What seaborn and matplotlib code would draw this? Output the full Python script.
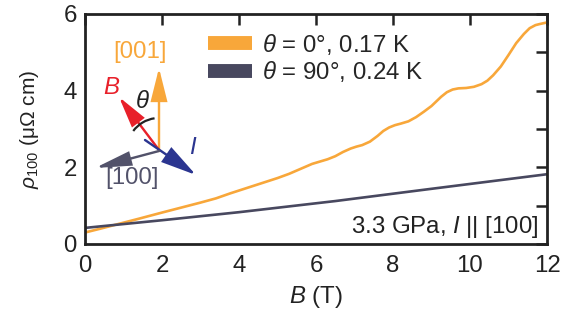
import numpy as np
import pandas as pd
import matplotlib
matplotlib.use("Agg")
import matplotlib.pyplot as plt
from matplotlib.lines import Line2D
from matplotlib.patches import FancyArrowPatch, Arc
import seaborn as sns

# Magnetoresistance rho_100 vs field B
b_par = [0.0, 0.4, 0.86, 1.4, 2.0, 2.5, 3.0, 3.4, 3.77, 4.2, 4.6, 5.0, 5.3, 5.6, 5.9,
         6.1, 6.3, 6.5, 6.7, 6.9, 7.05, 7.2, 7.4, 7.6, 7.75, 7.9, 8.05, 8.2, 8.4, 8.6,
         8.8, 9.0, 9.25, 9.4, 9.55, 9.7, 9.9, 10.1, 10.3, 10.45, 10.6, 10.8, 11.0, 11.2,
         11.4, 11.55, 11.7, 11.82, 12.0]
rho_par = [0.30, 0.40, 0.52, 0.66, 0.82, 0.95, 1.08, 1.19, 1.32, 1.46, 1.59, 1.72, 1.83,
           1.96, 2.09, 2.15, 2.21, 2.29, 2.40, 2.49, 2.54, 2.58, 2.67, 2.82, 2.95, 3.04,
           3.10, 3.14, 3.20, 3.31, 3.45, 3.60, 3.84, 3.96, 4.03, 4.06, 4.07, 4.10, 4.17,
           4.26, 4.40, 4.63, 4.93, 5.24, 5.48, 5.63, 5.71, 5.74, 5.78]
b_perp = [0.0, 2.0, 4.0, 6.5, 9.0, 12.0]
rho_perp = [0.42, 0.62, 0.83, 1.12, 1.44, 1.82]

label_par = r"$\theta$ = 0°, 0.17 K"
label_perp = r"$\theta$ = 90°, 0.24 K"
orange = "#F8A73A"
slate = "#48485F"

df = pd.concat([
    pd.DataFrame({"B": b_par, "rho": rho_par, "curve": label_par}),
    pd.DataFrame({"B": b_perp, "rho": rho_perp, "curve": label_perp}),
])

sns.set_theme(style="white")
plt.rcParams["font.family"] = ["Liberation Sans", "DejaVu Sans"]
plt.rcParams["mathtext.fontset"] = "custom"
plt.rcParams["mathtext.rm"] = "Liberation Sans"
plt.rcParams["mathtext.it"] = "Liberation Sans:italic"
fs = 17.3
ink = "#222222"

fig = plt.figure(figsize=(5.78, 3.25), dpi=100)
ax = fig.add_axes([85 / 578, 1 - 244 / 325, 462 / 578, 230 / 325])

sns.lineplot(data=df, x="B", y="rho", hue="curve", palette=[orange, slate],
             linewidth=1.9, legend=False, ax=ax, sort=False)
for ln in ax.lines:
    ln.set_solid_joinstyle("round")

ax.set_xlim(0, 12)
ax.set_ylim(0, 6)
ax.set_xticks([0, 2, 4, 6, 8, 10, 12])
ax.set_yticks([0, 2, 4, 6])
ax.set_yticks([1, 3, 5], minor=True)
ax.tick_params(axis="both", which="both", direction="in", length=8, width=1.8,
               color=ink, labelsize=fs, labelcolor=ink,
               top=True, right=True)
ax.tick_params(axis="x", pad=8)
ax.tick_params(axis="y", pad=6)
for s in ax.spines.values():
    s.set_linewidth(2.0)
    s.set_color(ink)
ax.set_xlabel(r"$B$ (T)", fontsize=fs, color=ink, labelpad=5)
ax.set_ylabel(r"$\rho_{100}$ (μΩ cm)", fontsize=15, color=ink, labelpad=16)

handles = [Line2D([], [], color=orange, lw=10, solid_capstyle="butt"),
           Line2D([], [], color=slate, lw=10, solid_capstyle="butt")]
ax.legend(handles, [label_par, label_perp], frameon=False, fontsize=fs,
          loc="upper left", bbox_to_anchor=(0.245, 0.965), handlelength=1.85,
          handletextpad=0.42, labelspacing=0.1, borderaxespad=0)

ax.text(0.982, 0.048, r"3.3 GPa, $I$ || [100]", transform=ax.transAxes,
        ha="right", va="baseline", fontsize=fs, color=ink)

# Orientation sketch (pixel positions converted to axes fraction)
def af(px, py):
    return ((px - 85) / 462, (244 - py) / 230)

PT = 0.72  # points per pixel at 100 dpi

def arrow(p0, p1, color, lw=2.2, hw=13, hl=28):
    style = f"-|>,head_width={hw / 2 * PT / 10:.3f},head_length={hl * PT / 10:.3f}"
    a = FancyArrowPatch(af(*p0), af(*p1), transform=ax.transAxes, arrowstyle=style,
                        mutation_scale=10, color=color, lw=lw * PT,
                        shrinkA=0, shrinkB=0, joinstyle="miter")
    ax.add_patch(a)

red = "#E8202A"
navy = "#2B3590"
gray = "#52526A"
arrow((159, 151), (159, 68), orange, lw=2.4, hw=14, hl=28)
arrow((159, 150), (119, 97), red, lw=2.4, hw=13, hl=26)
arrow((145, 140), (196, 175), navy, lw=2.4, hw=15, hl=30)
arrow((159, 151), (95, 168), gray, lw=2.4, hw=12, hl=30)
arc = Arc(af(159, 150), 64 / 462, 64 / 230, transform=ax.transAxes,
          theta1=94, theta2=124, color=ink, lw=1.6)
ax.add_patch(arc)

ax.text(*af(140, 52), "[001]", transform=ax.transAxes, color=orange,
        fontsize=fs, ha="center", va="center")
ax.text(*af(112, 88), r"$B$", transform=ax.transAxes, color=red,
        fontsize=fs, ha="center", va="center")
ax.text(*af(142, 102), r"$\theta$", transform=ax.transAxes, color=ink,
        fontsize=fs, ha="center", va="center")
ax.text(*af(193, 148), r"$I$", transform=ax.transAxes, color=navy,
        fontsize=fs, ha="center", va="center")
ax.text(*af(132, 178), "[100]", transform=ax.transAxes, color=gray,
        fontsize=fs, ha="center", va="center")

fig.savefig("out.png", dpi=100)
